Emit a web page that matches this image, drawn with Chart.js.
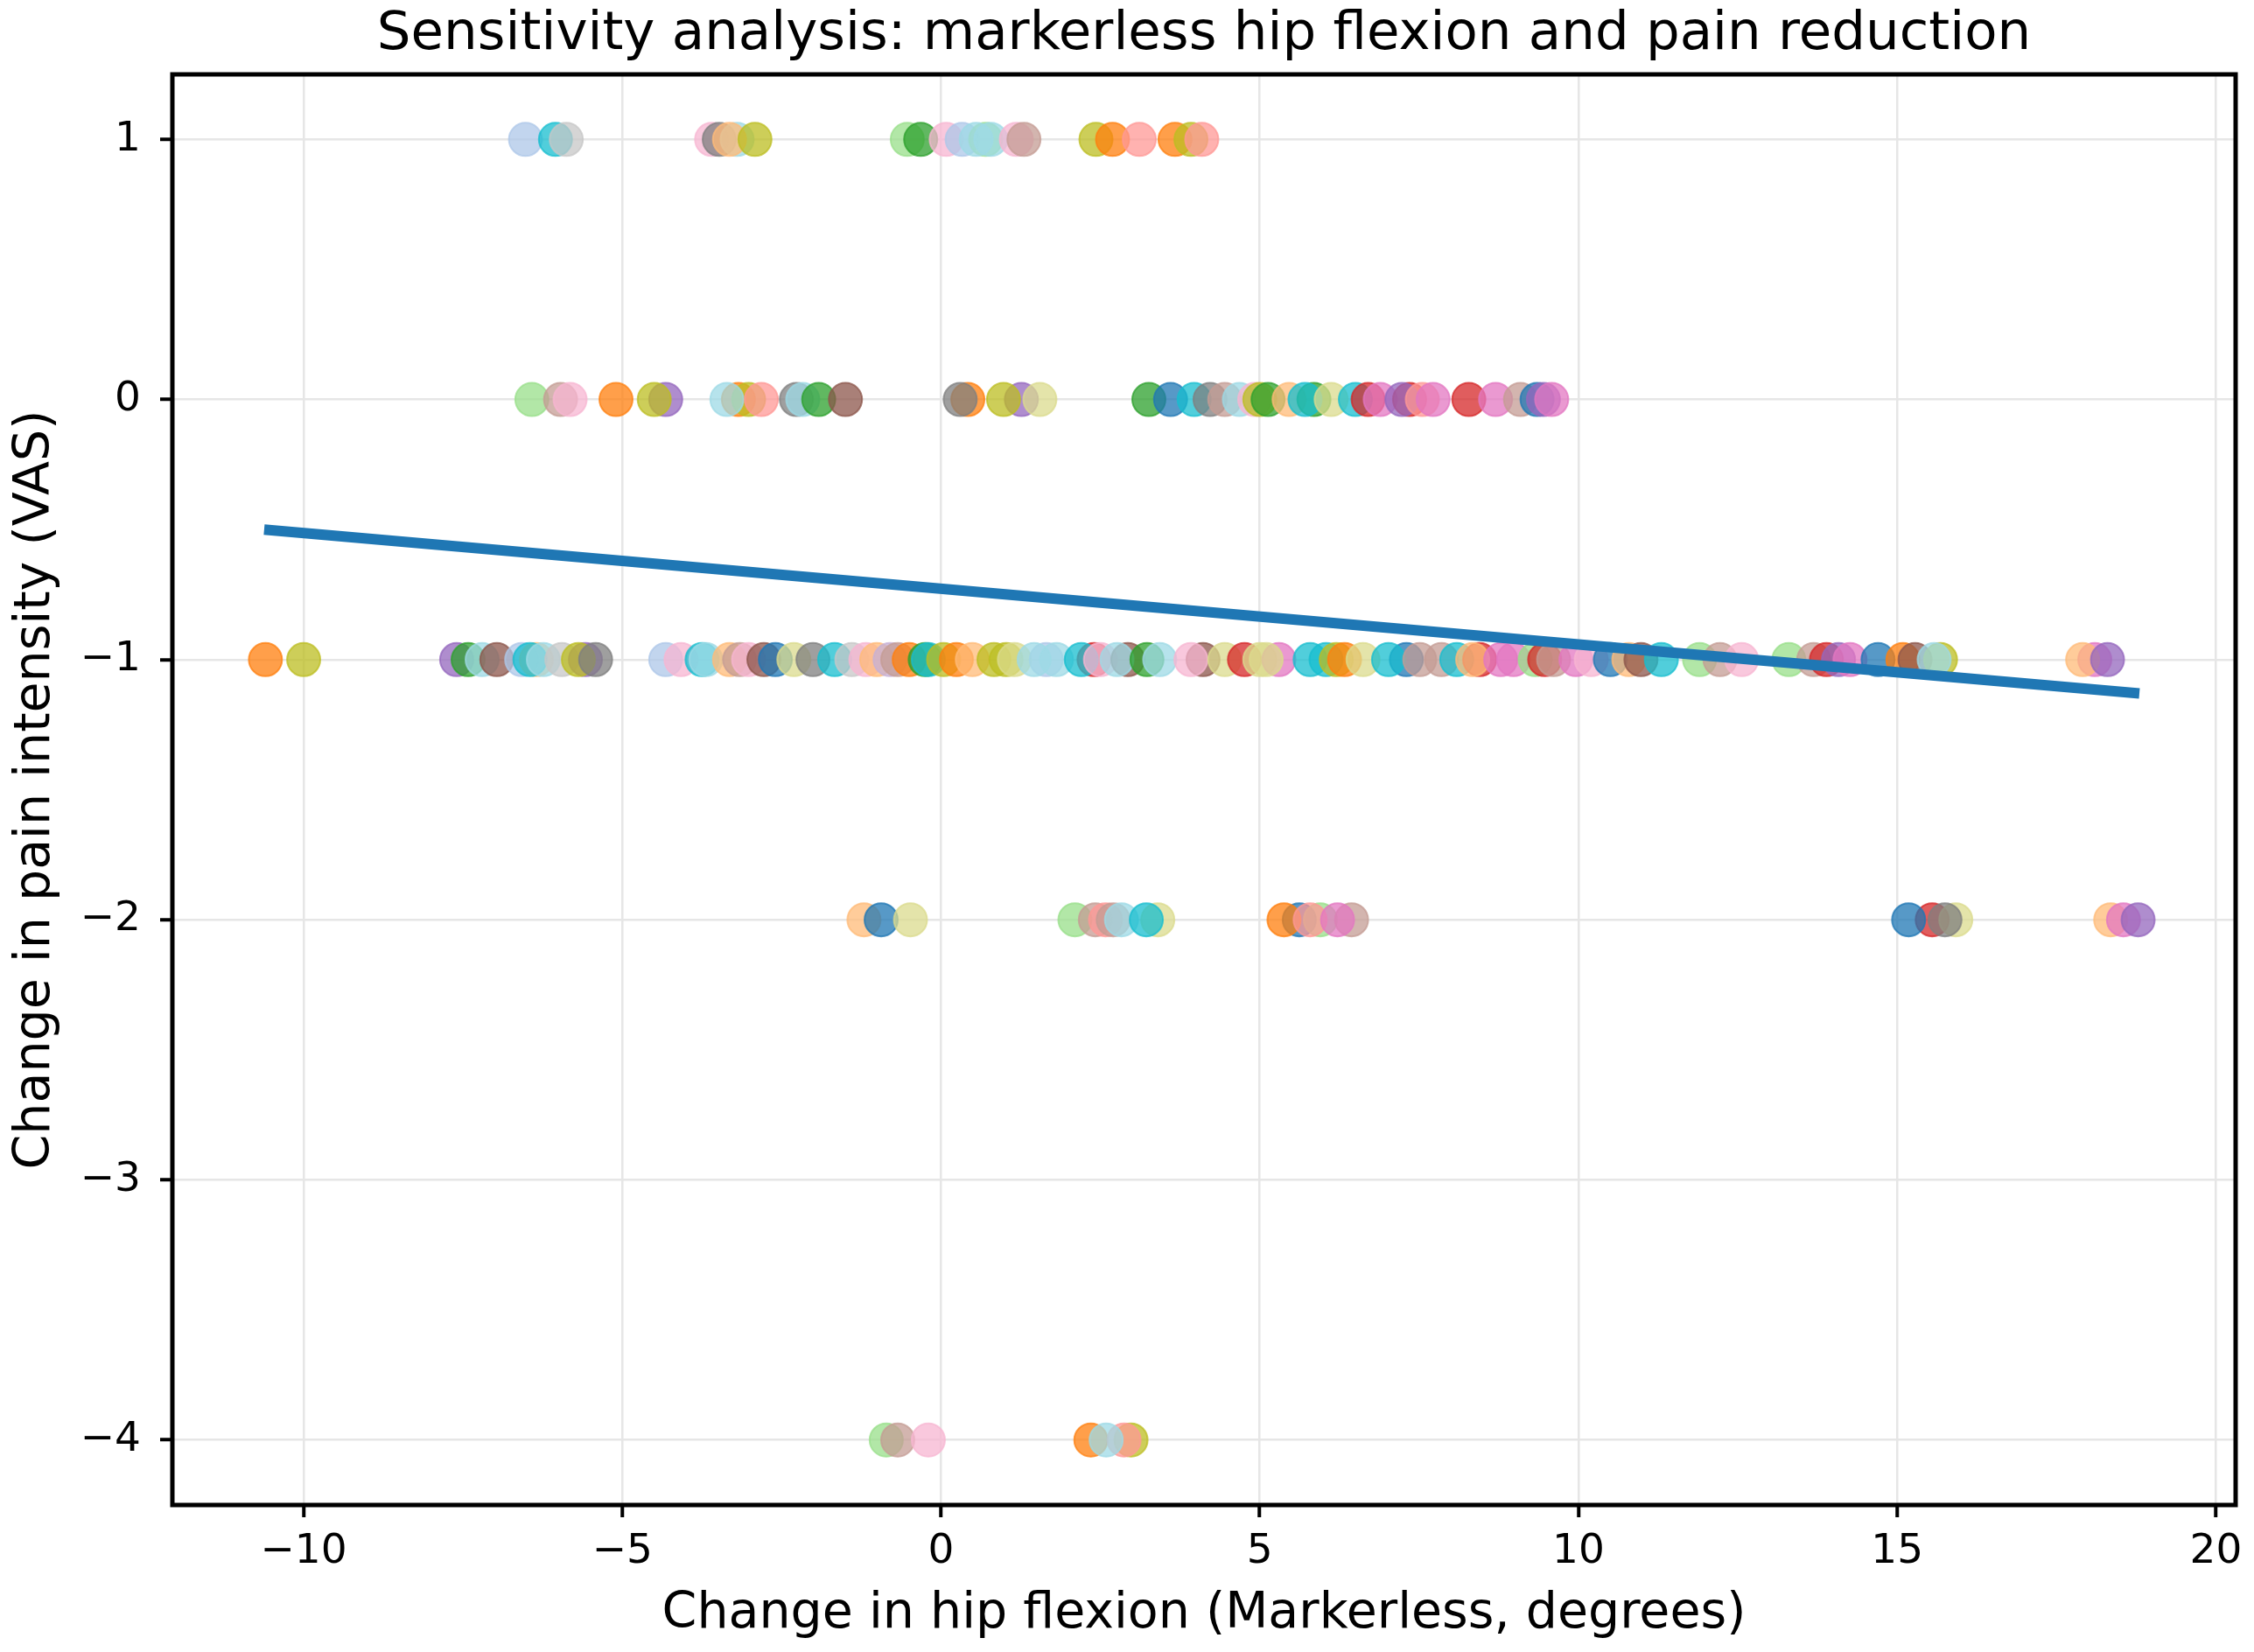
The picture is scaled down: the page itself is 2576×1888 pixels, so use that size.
<!DOCTYPE html>
<html>
<head>
<meta charset="utf-8">
<title>Sensitivity analysis</title>
<script src="https://cdn.jsdelivr.net/npm/chart.js@4.4.1/dist/chart.umd.min.js"></script>
<style>
  html, body { margin: 0; padding: 0; background: #fff; }
  canvas { display: block; }
</style>
</head>
<body>
<canvas id="myChart" width="2576" height="1888"></canvas>
<script>
// values, one pair of arrays per VAS level
// hip = change in hip flexion (deg), subj = colour slot in the tab20 cycle
const hipAtPainPlus1 = [-6.52, -6.05, -5.88, -3.60, -3.48, -3.20, -3.32, -2.92, -0.53, -0.32, 0.08, 0.33,
  0.70, 0.55, 0.78, 1.18, 1.30, 2.43, 2.69, 3.11, 3.67, 3.92, 4.09];
const subjAtPainPlus1 = [1, 18, 15, 13, 14, 19, 3, 16, 5, 4, 13, 1, 5, 19, 19, 13, 11, 16, 2, 7, 2, 16, 7];

const hipAtPain0 = [-6.42, -5.97, -5.82, -5.10, -4.32, -4.50, -3.18, -3.02, -3.36, -2.82, -2.27, -2.17,
  -1.92, -1.50, 0.42, 0.30, 1.26, 0.98, 1.55,
  3.26, 3.60, 3.97, 4.22, 4.45, 4.68, 4.92, 5.00, 5.13, 5.46, 5.85, 5.71, 6.12, 6.50, 6.70, 6.89,
  7.35, 7.23, 7.55, 7.72, 8.28, 8.70, 9.09, 9.35, 9.45, 9.58];
const subjAtPain0 = [5, 11, 13, 2, 8, 16, 2, 16, 19, 7, 14, 19, 4, 10, 2, 14, 8, 16, 17,
  4, 0, 18, 14, 11, 19, 13, 16, 4, 3, 4, 18, 17, 18, 6, 12, 6, 8, 7, 12, 6, 12, 11, 0, 8, 12];

const hipAtPainMinus1 = [-10.60, -10.00, -7.60, -7.42, -7.20, -6.97, -6.58, -6.35, -6.45, -6.24, -5.95,
  -5.58, -5.69, -5.42, -4.32, -4.08, -3.75, -3.69, -3.32, -3.16, -3.02, -2.78, -2.60, -2.31, -2.01,
  -1.67, -1.40, -1.18, -1.01, -0.80, -0.68, -0.50, -0.25, -0.20, 0.04, 0.24, 0.49, 0.83, 1.02, 1.15,
  1.65, 1.46, 1.81, 2.40, 2.20, 2.50, 2.93, 2.76, 3.23, 3.43, 4.11, 3.92, 4.45, 4.76, 5.00, 5.30,
  5.10, 5.79, 6.04, 6.20, 6.33, 6.62, 7.30, 7.02, 7.51, 7.85, 8.09, 8.45, 8.34, 8.78, 8.98, 9.32,
  9.47, 9.61, 9.96, 10.20, 10.50, 10.79, 10.98, 11.30, 11.90, 12.22, 12.56, 13.30, 13.69, 13.89,
  14.08, 14.26, 14.70, 15.09, 15.28, 15.68, 15.58, 18.10, 17.91, 18.30];
const subjAtPainMinus1 = [2, 16, 8, 4, 19, 10, 1, 3, 18, 19, 15, 8, 16, 14, 1, 13, 18, 19, 3, 11, 13,
  10, 0, 17, 14, 18, 15, 13, 3, 9, 11, 2, 4, 18, 16, 2, 3, 16, 16, 17, 1, 19, 19, 6, 18, 13, 10, 19,
  4, 19, 10, 13, 17, 6, 17, 12, 17, 18, 18, 16, 2, 17, 0, 18, 11, 11, 18, 6, 3, 12, 12, 5, 6, 11, 12,
  13, 0, 3, 10, 18, 5, 11, 13, 5, 11, 6, 8, 12, 0, 2, 10, 16, 19, 12, 3, 8];

const hipAtPainMinus2 = [-1.21, -0.94, -0.48, 2.10, 2.42, 2.58, 2.70, 2.83, 3.40, 3.22, 5.62, 5.38,
  5.95, 5.79, 6.44, 6.22, 15.55, 15.92, 15.75, 15.18, 18.35, 18.55, 18.78];
const subjAtPainMinus2 = [3, 0, 17, 5, 11, 7, 11, 19, 17, 18, 0, 2, 5, 7, 11, 12, 6, 17, 14, 0, 3, 12, 8];

const hipAtPainMinus4 = [-0.86, -0.68, -0.20, 2.35, 2.98, 2.87, 2.59];
const subjAtPainMinus4 = [5, 11, 13, 2, 16, 7, 19];

// fitted line, end points
const fitHip = [-10.62, 18.8];
const fitPain = [-0.50, -1.13];

const xTicks = [-10, -5, 0, 5, 10, 15, 20];
const yTicks = [-4, -3, -2, -1, 0, 1];

const chartTitle = 'Sensitivity analysis: markerless hip flexion and pain reduction';

// matplotlib tab20
const tab20 = ['#1f77b4', '#aec7e8', '#ff7f0e', '#ffbb78', '#2ca02c', '#98df8a', '#d62728', '#ff9896',
  '#9467bd', '#c5b0d5', '#8c564b', '#c49c94', '#e377c2', '#f7b6d2', '#7f7f7f', '#c7c7c7',
  '#bcbd22', '#dbdb8d', '#17becf', '#9edae5'];

function withAlpha(hex, a) {
  const n = parseInt(hex.slice(1), 16);
  return 'rgba(' + (n >> 16) + ',' + ((n >> 8) & 255) + ',' + (n & 255) + ',' + a + ')';
}

// glue the rows together
const rows = [
  [1, hipAtPainPlus1, subjAtPainPlus1],
  [0, hipAtPain0, subjAtPain0],
  [-1, hipAtPainMinus1, subjAtPainMinus1],
  [-2, hipAtPainMinus2, subjAtPainMinus2],
  [-4, hipAtPainMinus4, subjAtPainMinus4]
];
const scatterPoints = [];
const pointColors = [];
rows.forEach(([pain, hips, subj]) => {
  hips.forEach((h, i) => {
    scatterPoints.push({ x: h, y: pain });
    pointColors.push(withAlpha(tab20[subj[i]], 0.75));
  });
});
const fitPoints = fitHip.map((h, i) => ({ x: h, y: fitPain[i] }));

const fontFamily = 'DejaVu Sans';
Chart.defaults.color = '#000';
Chart.defaults.font.family = fontFamily;

const minusSign = (v) => (v < 0 ? '\u2212' + Math.abs(v) : String(v));

// box round the plot area (matplotlib spines) + title centred on the axes
const frame = {
  id: 'frame',
  afterDraw(chart) {
    const { ctx, chartArea: a } = chart;
    ctx.save();
    ctx.strokeStyle = '#000';
    ctx.lineWidth = 5;
    ctx.strokeRect(a.left, a.top, a.right - a.left, a.bottom - a.top);
    ctx.fillStyle = '#000';
    ctx.font = '61px "' + fontFamily + '"';
    ctx.textAlign = 'center';
    ctx.textBaseline = 'middle';
    ctx.fillText(chartTitle, (a.left + a.right) / 2, 40);
    ctx.restore();
  }
};

const gridStyle = { color: '#e6e6e6', lineWidth: 2.5, tickColor: '#000', tickLength: 14, tickWidth: 4 };

const config = {
  type: 'scatter',
  data: {
    datasets: [
      {
        type: 'line',
        data: fitPoints,
        borderColor: '#1f77b4',
        borderWidth: 12,
        pointRadius: 0,
        fill: false,
        order: 0
      },
      {
        data: scatterPoints,
        backgroundColor: pointColors,
        borderColor: pointColors,
        pointRadius: 19,
        borderWidth: 2,
        order: 1
      }
    ]
  },
  options: {
    responsive: false,
    animation: false,
    devicePixelRatio: 1,
    layout: { padding: { left: 0, right: 21, top: 85, bottom: 0 } },
    plugins: {
      legend: { display: false },
      tooltip: { enabled: false },
      title: { display: false }
    },
    scales: {
      x: {
        type: 'linear',
        min: -12.06,
        max: 20.31,
        afterBuildTicks: (s) => { s.ticks = xTicks.map((v) => ({ value: v })); },
        afterFit: (s) => { s.height = 168; },
        ticks: { color: '#000', font: { size: 47 }, padding: 12, maxRotation: 0, autoSkip: false, callback: minusSign },
        grid: gridStyle,
        border: { display: false },
        title: {
          display: true,
          text: 'Change in hip flexion (Markerless, degrees)',
          color: '#000',
          font: { size: 57 },
          padding: { top: 0, bottom: 9 }
        }
      },
      y: {
        type: 'linear',
        min: -4.25,
        max: 1.25,
        afterBuildTicks: (s) => { s.ticks = yTicks.map((v) => ({ value: v })); },
        afterFit: (s) => { s.width = 197; },
        ticks: { color: '#000', font: { size: 47 }, padding: 22, autoSkip: false, callback: minusSign },
        grid: gridStyle,
        border: { display: false },
        title: {
          display: true,
          text: 'Change in pain intensity (VAS)',
          color: '#000',
          font: { size: 57 },
          padding: { top: 7, bottom: 0 }
        }
      }
    }
  },
  plugins: [frame]
};

const myChart = new Chart(document.getElementById('myChart'), config);
</script>
</body>
</html>
